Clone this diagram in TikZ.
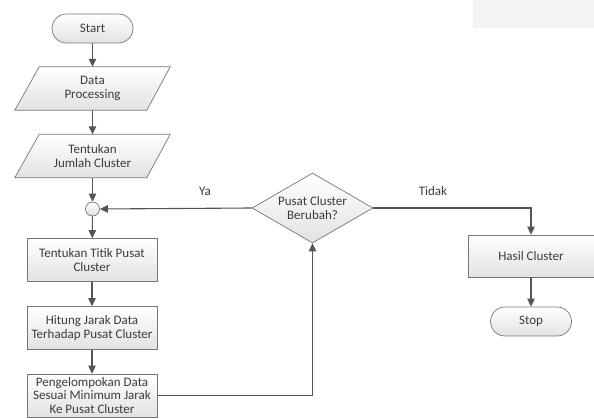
\documentclass[tikz,border=0pt]{standalone}
\usepackage{fontspec}
\setmainfont{Carlito}
\usetikzlibrary{arrows.meta,shapes.geometric,backgrounds}
\definecolor{linegray}{HTML}{555555}
\definecolor{edgegray}{HTML}{777777}
\definecolor{txtgray}{HTML}{3C3C3C}
\definecolor{shadegray}{HTML}{E2E2E2}
\definecolor{patchgray}{HTML}{F3F3F2}
\begin{document}
\begin{tikzpicture}[x=1pt,y=-1pt,
  font=\fontsize{13}{14}\selectfont, text=txtgray,
  shapefill/.style={draw=edgegray, line width=0.7pt, top color=white, bottom color=shadegray},
  box/.style={shapefill, minimum width=130pt, minimum height=43pt, align=center, inner sep=0pt,
    font=\fontsize{13}{13.3}\selectfont},
  term/.style={shapefill, rounded corners=14.5pt, minimum width=81pt, minimum height=29pt, inner sep=0pt},
  iotext/.style={minimum width=155pt, minimum height=43pt, align=center, inner sep=0pt},
  junc/.style={shapefill, circle, minimum size=14pt, inner sep=0pt},
  dec/.style={shapefill, diamond, aspect=1.73, minimum width=121pt, minimum height=70pt, inner sep=0pt,
    align=center, font=\fontsize{13}{13.3}\selectfont},
  lbl/.style={inner sep=0pt},
  arr/.style={draw=linegray, line width=1.1pt, -{Triangle[length=8pt,width=7.5pt]}},
  ln/.style={draw=linegray, line width=1.1pt}]
\useasboundingbox (0,0) rectangle (594,419);
\fill[patchgray] (473,0) rectangle (594,28);

\node[term] (start) at (92.5,28.5) {Start};
\node[iotext] (dp) at (92.5,88.5) {Data\\Processing};
\node[iotext] (jc) at (92.5,156) {Tentukan\\Jumlah Cluster};
\node[junc] (j) at (92.5,209) {};
\node[box] (ttp) at (92,260) {Tentukan Titik Pusat\\Cluster};
\node[box] (hj) at (92,328) {Hitung Jarak Data\\Terhadap Pusat Cluster};
\node[box] (pk) at (92,395.5) {Pengelompokan Data\\Sesuai Minimum Jarak\\Ke Pusat Cluster};
\node[dec] (dec) at (312.5,208) {Pusat Cluster\\Berubah?};
\node[box, minimum width=126pt, minimum height=42pt] (hc) at (531,256) {Hasil Cluster};
\node[term] (stop) at (531,321.5) {Stop};
\node[lbl] (ya) at (205,191) {Ya};
\node[lbl] (tidak) at (433,191) {Tidak};

\begin{scope}[on background layer]
  \foreach \n in {dp,jc}
    \draw[shapefill] (\n.south west) -- ++(132,0) -- (\n.north east) -- ++(-131,0) -- cycle;
\end{scope}

\draw[arr] (start) -- (dp);
\draw[arr] (dp) -- (jc);
\draw[arr] (jc) -- (j);
\draw[arr] (j) -- (ttp);
\draw[arr] (ttp) -- (hj);
\draw[arr] (hj) -- (pk);
\draw[arr] (pk.east) -| (dec.south);
\draw[arr] (dec.west) -- (j.east);
\draw[arr] (dec.east) -| (hc.north);
\draw[arr] (hc) -- (stop);
\end{tikzpicture}
\end{document}
